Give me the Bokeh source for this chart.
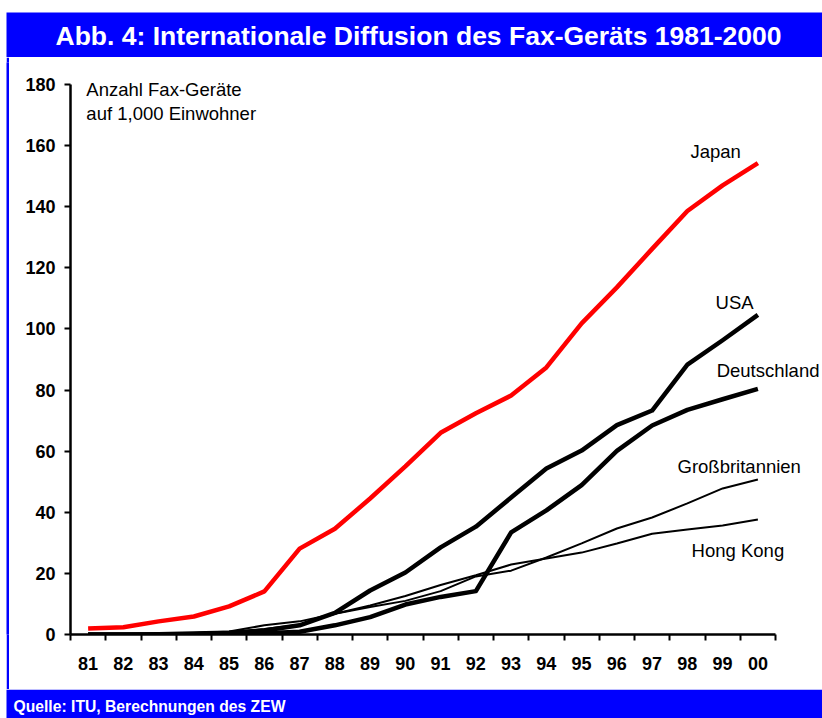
from bokeh.plotting import figure
from bokeh.models import FixedTicker, Label, BoxAnnotation, Range1d
from bokeh.layouts import column, row
from bokeh.embed import file_html
from bokeh.resources import INLINE

years = list(range(81, 101))
year_labels = {y: f"{y % 100:02d}" for y in years}
y_ticks = [0, 20, 40, 60, 80, 100, 120, 140, 160, 180]

japan = [2.0, 2.4, 4.3, 5.9, 9.2, 14.1, 28.1, 34.6, 44.5, 55.0, 66.0, 72.4, 78.2, 87.4, 101.8, 113.6, 126.2, 138.6, 147.0, 154.3]
usa = [0, 0, 0.1, 0.3, 0.6, 1.3, 3.0, 7.1, 14.4, 20.3, 28.5, 35.3, 44.8, 54.3, 60.2, 68.5, 73.3, 88.3, 96.3, 104.6]
deutschland = [0, 0, 0, 0.1, 0.2, 0.4, 0.9, 3.0, 5.7, 9.8, 12.3, 14.2, 33.4, 40.6, 48.9, 60.1, 68.4, 73.5, 77.0, 80.4]
grossbritannien = [0, 0, 0, 0.3, 0.6, 1.8, 3.2, 6.8, 9.0, 11.0, 14.2, 19.0, 20.9, 25.2, 29.8, 34.7, 38.3, 42.9, 47.8, 50.7]
hongkong = [0, 0, 0.1, 0.5, 1.0, 3.0, 4.3, 6.8, 9.5, 12.6, 16.2, 19.4, 22.9, 24.9, 26.8, 29.8, 33.0, 34.4, 35.7, 37.6]

title_text = "Abb. 4: Internationale Diffusion des Fax-Geräts 1981-2000"
source_text = "Quelle: ITU, Berechnungen des ZEW"
unit_lines = ["Anzahl Fax-Geräte", "auf 1,000 Einwohner"]

FONT = "Liberation Sans"
BLUE = "#0000FF"
W = 822
TOP_H = 57
FOOT_H = 29
MAIN_H = 718 - TOP_H - FOOT_H   # 632


def blank_fig(w, h, fill="white"):
    f = figure(width=w, height=h, output_backend="svg", toolbar_location=None,
               x_range=Range1d(0, w), y_range=Range1d(h, 0),
               x_axis_type=None, y_axis_type=None, min_border=0)
    f.outline_line_color = None
    f.grid.visible = False
    f.background_fill_color = fill
    f.border_fill_color = fill
    return f


# ---- title bar
top = blank_fig(W, TOP_H)
top.add_layout(BoxAnnotation(left=6, right=W, top=12, bottom=TOP_H,
                             fill_color=BLUE, fill_alpha=1, line_color=None))
top.add_layout(Label(x=418, y=35.5, text=title_text, text_font=FONT, text_font_style="bold",
                     text_font_size="26.5px", text_color="white", text_align="center",
                     text_baseline="alphabetic"))

# ---- left border: white gap + blue strip
gap = blank_fig(6, MAIN_H, "white")
strip = blank_fig(3, MAIN_H, BLUE)

# ---- footer
foot = blank_fig(W, FOOT_H)
foot.add_layout(BoxAnnotation(left=6, right=W, top=0, bottom=FOOT_H,
                              fill_color=BLUE, fill_alpha=1, line_color=None))
foot.add_layout(Label(x=13, y=17, text=source_text, text_font=FONT, text_font_style="bold",
                      text_font_size="15.7px", text_color="white", text_align="left",
                      text_baseline="alphabetic"))

# ---- main chart
p = figure(width=W - 9, height=MAIN_H, output_backend="svg", toolbar_location=None,
           x_range=Range1d(80.5, 101.833), y_range=Range1d(0, 187.2),
           min_border_left=61, min_border_right=0, min_border_top=5, min_border_bottom=55)
p.outline_line_color = None
p.xgrid.visible = False
p.ygrid.visible = False
p.background_fill_color = "white"
p.border_fill_color = "white"

for ax in (p.xaxis[0], p.yaxis[0]):
    ax.axis_line_width = 2.5
    ax.axis_line_color = "black"
    ax.major_tick_line_width = 2
    ax.minor_tick_line_width = 2
    ax.major_label_text_font = FONT
    ax.major_label_text_font_style = "bold"
    ax.major_label_text_font_size = "18px"
    ax.major_label_text_color = "black"

p.yaxis.ticker = FixedTicker(ticks=y_ticks)
p.yaxis.bounds = (0, 180)
p.yaxis.major_tick_in = 0
p.yaxis.major_tick_out = 6
p.yaxis.minor_tick_line_color = None
p.yaxis.major_label_standoff = 9

p.xaxis.ticker = FixedTicker(ticks=years, minor_ticks=[y - 0.5 for y in years] + [years[-1] + 0.5])
p.xaxis.bounds = (80.5, 100.5)
p.xaxis.major_tick_in = 0
p.xaxis.major_tick_out = 0
p.xaxis.minor_tick_in = 0
p.xaxis.minor_tick_out = 6
p.xaxis.major_label_overrides = year_labels
p.xaxis.major_label_standoff = 16

p.line(years, grossbritannien, line_color="black", line_width=2)
p.line(years, hongkong, line_color="black", line_width=2)
p.line(years, deutschland, line_color="black", line_width=4.5, line_join="round")
p.line(years, usa, line_color="black", line_width=4.5, line_join="round")
p.line(years, japan, line_color="#FF0000", line_width=4.5, line_join="round")


def lab(x, y, t, align="left"):
    p.add_layout(Label(x=x, y=y, text=t, text_font=FONT, text_font_size="18.5px",
                       text_color="black", text_align=align, text_baseline="alphabetic"))


lab(98.8, 158.2, "Japan", "center")
lab(99.34, 108.8, "USA", "center")
lab(98.83, 86.4, "Deutschland")
lab(97.72, 55.0, "Großbritannien")
lab(98.12, 27.5, "Hong Kong")
lab(80.95, 178.3, unit_lines[0])
lab(80.95, 170.4, unit_lines[1])

layout = column(top, row(gap, strip, p), foot)
open("out.html", "w").write(file_html(layout, INLINE))
